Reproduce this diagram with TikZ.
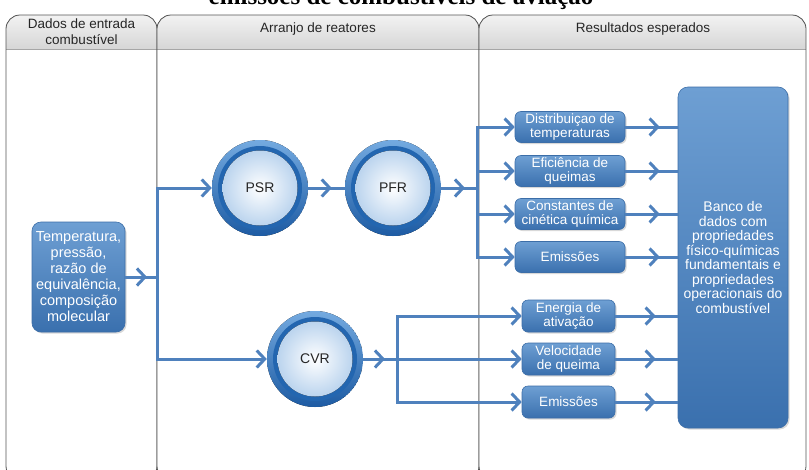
\documentclass[tikz,border=0pt]{standalone}
\usepackage{fontspec}
\setmainfont{Liberation Sans}
\newfontfamily\titlefont{Liberation Serif}
\usetikzlibrary{arrows.meta,decorations.markings,shadows}
\definecolor{conn}{HTML}{4F81BD}
\definecolor{boxtop}{HTML}{6E9FD3}
\definecolor{boxbot}{HTML}{3A70AE}
\definecolor{boxedge}{HTML}{3C6EA8}
\definecolor{ringlight}{HTML}{74AAE0}
\definecolor{ringdark}{HTML}{1D5BA3}
\definecolor{ringmid}{HTML}{2366B0}
\definecolor{innerblue}{HTML}{BBD4EE}
\definecolor{hdrgray}{HTML}{D6D6D6}
\definecolor{paneledge}{HTML}{555555}
\tikzset{
  conn/.style={color=conn, line width=3pt},
  chev/.tip={Straight Barb[length=8pt,width=17pt]},
  chevat/.style={postaction={decorate,decoration={markings,mark=at position #1 with {\arrow{chev}}}}},
  bluebox/.style={rounded corners=6pt, draw=boxedge, line width=0.6pt,
    top color=boxtop, bottom color=boxbot, text=white, align=center, inner sep=1pt,
    font=\fontsize{13.5}{14}\selectfont,
    drop shadow={shadow xshift=1.5pt, shadow yshift=-1.5pt, opacity=0.3}},
  reactor/.style={circle, minimum size=96pt, inner sep=0pt, text=black!85,
    font=\fontsize{14}{14}\selectfont,
    path picture={
      \fill[top color=ringlight, bottom color=ringdark] (path picture bounding box.center) circle (48pt);
      \fill[ringmid] (path picture bounding box.center) circle (42pt);
      \fill[inner color=white, outer color=innerblue] (path picture bounding box.center) circle (37.5pt);
    }},
  hdrtext/.style={align=center, text=black!85, font=\fontsize{13.5}{16}\selectfont},
}
\newcommand\colpanel[2]{%
  \begin{scope}
    \clip[rounded corners=14pt] (#1,15) rectangle (#2,480);
    \fill[white] (#1,15) rectangle (#2,480);
    \fill[top color=white!95!black, bottom color=hdrgray] (#1,15) rectangle (#2,49);
  \end{scope}
  \draw[black!35, line width=0.6pt] (#1,49) -- (#2,49);
  \draw[paneledge, line width=0.8pt, rounded corners=14pt] (#1,15) rectangle (#2,480);
}
\begin{document}
\begin{tikzpicture}[x=1pt,y=-1pt]
\clip (0,0) rectangle (809,469);
\fill[white] (0,0) rectangle (809,469);
\node[anchor=base, font=\titlefont\bfseries\fontsize{25}{25}\selectfont] (title) at (401,4) {emissões de combustíveis de aviação};

\colpanel{6}{157}
\colpanel{157}{479}
\colpanel{479}{806}

\node[hdrtext] (h1) at (81.5,31.5) {Dados de entrada\\combustível};
\node[hdrtext] (h2) at (318,29) {Arranjo de reatores};
\node[hdrtext] (h3) at (643,29) {Resultados esperados};

% nodes
\node[bluebox, rounded corners=9pt, minimum width=93pt, minimum height=110pt,
      font=\fontsize{14.5}{16}\selectfont] (inp) at (78.5,277)
      {Temperatura,\\pressão,\\razão de\\equivalência,\\composição\\molecular};
\node[bluebox, rounded corners=10pt, minimum width=110pt, minimum height=341pt,
      font=\fontsize{14}{14.5}\selectfont] (big) at (733,257.5)
      {Banco de\\dados com\\propriedades\\físico-químicas\\fundamentais e\\propriedades\\operacionais do\\combustível};

\node[bluebox, minimum width=110pt, minimum height=31pt] (r1) at (570,127) {Distribuiçao de\\temperaturas};
\node[bluebox, minimum width=110pt, minimum height=31pt] (r2) at (570,171) {Eficiência de\\queimas};
\node[bluebox, minimum width=110pt, minimum height=31pt] (r3) at (570,214) {Constantes de\\cinética química};
\node[bluebox, minimum width=110pt, minimum height=31pt] (r4) at (570,257) {Emissões};

\node[bluebox, minimum width=93pt, minimum height=32pt] (q1) at (568.5,316) {Energia de\\ativação};
\node[bluebox, minimum width=93pt, minimum height=32pt] (q2) at (568.5,359) {Velocidade\\de queima};
\node[bluebox, minimum width=93pt, minimum height=32pt] (q3) at (568.5,402) {Emissões};

\coordinate (s1t) at (157,188);
\coordinate (s1m) at (157,277);
\coordinate (s1b) at (157,359);
\coordinate (s2) at (477,188);
\coordinate (s2t) at (477,127);
\coordinate (s2b) at (477,257);
\coordinate (s3) at (397,359);
\coordinate (s3t) at (397,316);
\coordinate (s3b) at (397,402);

% connectors
\draw[conn, chevat=-10pt] (inp.east) -- (s1m);
\draw[conn, line cap=rect] (s1t) -- (s1b);
\draw[conn, line cap=rect] (s2t) -- (s2b);
\draw[conn, line cap=rect] (s3t) -- (s3b);

\node[reactor] (psr) at (260,188) {PSR};
\node[reactor] (pfr) at (393,188) {PFR};
\node[reactor] (cvr) at (315,359) {CVR};

\draw[conn, -chev] (s1t) -- (psr.west);
\draw[conn, -chev] (s1b) -- (cvr.west);
\draw[conn, chevat=-13pt] (psr.east) -- (pfr.west);
\draw[conn, chevat=-12pt] (pfr.east) -- (s2);
\draw[conn, chevat=-12pt] (cvr.east) -- (s3);

\foreach \b in {r1,r2,r3,r4}{
  \draw[conn, -chev] (\b.west -| s2t) -- (\b.west);
  \draw[conn, chevat=-18pt] (\b.east) -- (\b.east -| big.west);
}
\foreach \b in {q1,q2,q3}{
  \draw[conn, -chev] (\b.west -| s3t) -- (\b.west);
  \draw[conn, chevat=-22pt] (\b.east) -- (\b.east -| big.west);
}
\end{tikzpicture}
\end{document}
